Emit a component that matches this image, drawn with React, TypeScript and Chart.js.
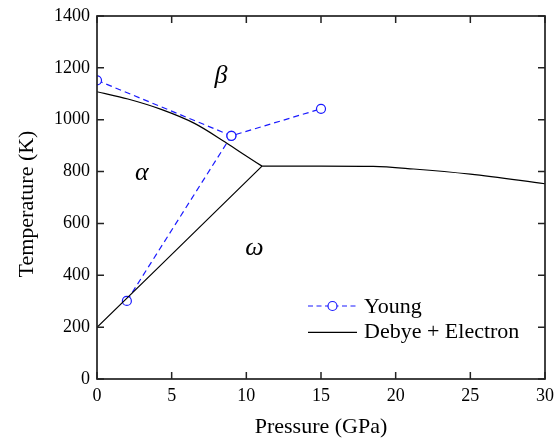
import React, { useEffect, useRef } from "react";
import { Chart, registerables } from "chart.js";

Chart.register(...registerables);

const FONT = "'Liberation Serif', 'Times New Roman', serif";

// Young: two branches that meet at ~9 GPa
const youngP1 = [0, 9, 15];
const youngT1 = [1152, 938, 1042];
const youngP2 = [2, 9];
const youngT2 = [301, 938];

// Debye + Electron phase boundaries
const alphaBetaP = [0, 2.07, 4.3, 6.53, 8.55, 9.89, 11.05];
const alphaBetaT = [1108, 1080, 1040, 986, 915, 864, 821];
const omegaBetaP = [11.05, 15, 18.5, 21.2, 25, 30];
const omegaBetaT = [821, 821, 820, 810, 790, 753];
const alphaOmegaP = [0, 11.05];
const alphaOmegaT = [199, 821];

// Phase labels
const phaseLabels = ["\u03B2", "\u03B1", "\u03C9"];
const phaseP = [8.3, 3.0, 10.55];
const phaseT = [1143, 767, 478];

// Axis titles and legend
const xTitle = "Pressure (GPa)";
const yTitle = "Temperature (K)";
const legendLabels = ["Young", "Debye + Electron"];

const BLUE = "#1a1aff";

const zip = (xs: number[], ys: number[]) => xs.map((x, i) => ({ x, y: ys[i] }));

export default function App() {
  const ref = useRef<HTMLCanvasElement | null>(null);

  useEffect(() => {
    const canvas = ref.current;
    if (!canvas) return;

    const youngData: any[] = [
      ...zip(youngP1, youngT1),
      { x: 9, y: null },
      ...zip(youngP2, youngT2),
    ];
    const debyeData: any[] = [
      ...zip(alphaBetaP, alphaBetaT),
      { x: 11, y: null },
      ...zip(omegaBetaP, omegaBetaT),
      { x: 11, y: null },
      ...zip(alphaOmegaP, alphaOmegaT),
    ];

    const framePlugin = {
      id: "frame",
      afterDraw(chart: any) {
        const { ctx, chartArea } = chart;
        const { left, right, top, bottom } = chartArea;
        const xs = chart.scales.x;
        const ys = chart.scales.y;
        ctx.save();

        // phase labels
        ctx.fillStyle = "#000";
        ctx.font = `italic 26px ${FONT}`;
        ctx.textAlign = "center";
        ctx.textBaseline = "alphabetic";
        phaseLabels.forEach((t, i) => {
          ctx.fillText(t, xs.getPixelForValue(phaseP[i]), ys.getPixelForValue(phaseT[i]));
        });

        // axis titles
        ctx.font = `22px ${FONT}`;
        ctx.fillText(xTitle, (left + right) / 2, 433);
        ctx.save();
        ctx.translate(33, 204);
        ctx.rotate(-Math.PI / 2);
        ctx.fillText(yTitle, 0, 0);
        ctx.restore();

        // frame
        ctx.strokeStyle = "#222";
        ctx.lineWidth = 1.7;
        ctx.setLineDash([]);
        ctx.strokeRect(left, top, right - left, bottom - top);

        // inward ticks on all sides
        ctx.lineWidth = 1.5;
        const tl = 7;
        ctx.beginPath();
        xs.ticks.forEach((t: any) => {
          const px = xs.getPixelForValue(t.value);
          ctx.moveTo(px, bottom);
          ctx.lineTo(px, bottom - tl);
          ctx.moveTo(px, top);
          ctx.lineTo(px, top + tl);
        });
        ys.ticks.forEach((t: any) => {
          const py = ys.getPixelForValue(t.value);
          ctx.moveTo(left, py);
          ctx.lineTo(left + tl, py);
          ctx.moveTo(right, py);
          ctx.lineTo(right - tl, py);
        });
        ctx.stroke();

        // legend
        const lx0 = right - 237;
        const lx1 = right - 188;
        const tx = right - 181;
        const y1 = bottom - 73;
        const y2 = bottom - 46.7;
        ctx.font = `22px ${FONT}`;
        ctx.textAlign = "left";
        ctx.textBaseline = "alphabetic";

        ctx.strokeStyle = BLUE;
        ctx.lineWidth = 1.2;
        ctx.setLineDash([5, 3.5]);
        ctx.beginPath();
        ctx.moveTo(lx0, y1);
        ctx.lineTo(lx1, y1);
        ctx.stroke();
        ctx.setLineDash([]);
        ctx.beginPath();
        ctx.arc((lx0 + lx1) / 2, y1, 4.5, 0, Math.PI * 2);
        ctx.fillStyle = "#fff";
        ctx.fill();
        ctx.stroke();
        ctx.fillStyle = "#000";
        ctx.fillText(legendLabels[0], tx, y1 + 7);

        ctx.strokeStyle = "#000";
        ctx.lineWidth = 1.2;
        ctx.beginPath();
        ctx.moveTo(lx0, y2);
        ctx.lineTo(lx1, y2);
        ctx.stroke();
        ctx.fillText(legendLabels[1], tx, y2 + 6);

        ctx.restore();
      },
    };

    const chart = new Chart(canvas, {
      type: "scatter",
      data: {
        datasets: [
          {
            label: legendLabels[1],
            data: debyeData,
            showLine: true,
            borderColor: "#000",
            borderWidth: 1.2,
            pointRadius: 0,
            pointHoverRadius: 0,
            spanGaps: false,
            cubicInterpolationMode: "monotone",
          },
          {
            label: legendLabels[0],
            data: youngData,
            showLine: true,
            borderColor: BLUE,
            borderWidth: 1.2,
            borderDash: [6, 4],
            pointRadius: 4.5,
            pointBorderWidth: 1.2,
            pointBorderColor: BLUE,
            pointBackgroundColor: "#fff",
            spanGaps: false,
          },
        ],
      },
      options: {
        animation: false,
        responsive: false,
        events: [],
        layout: { padding: { top: 16, right: 9, left: 0, bottom: 0 } },
        plugins: {
          legend: { display: false },
          tooltip: { enabled: false },
        },
        scales: {
          x: {
            type: "linear",
            min: 0,
            max: 30,
            ticks: {
              stepSize: 5,
              color: "#000",
              padding: 6,
              font: { family: FONT, size: 18 },
              callback: (v: any) => String(v),
            },
            grid: { display: false, drawTicks: false },
            border: { display: false },
            title: { display: false },
            afterFit: (s: any) => {
              s.height = 61;
              s.paddingLeft = 0;
              s.paddingRight = 0;
            },
          },
          y: {
            type: "linear",
            min: 0,
            max: 1400,
            ticks: {
              stepSize: 200,
              color: "#000",
              padding: 7,
              font: { family: FONT, size: 18 },
              callback: (v: any) => String(v),
            },
            grid: { display: false, drawTicks: false },
            border: { display: false },
            title: { display: false },
            afterFit: (s: any) => {
              s.width = 97;
              s.paddingTop = 0;
              s.paddingBottom = 0;
            },
          },
        },
      },
      plugins: [framePlugin],
    });

    return () => chart.destroy();
  }, []);

  return (
    <div style={{ position: "absolute", left: 0, top: 0, width: 554, height: 440 }}>
      <canvas ref={ref} width={554} height={440} />
    </div>
  );
}
